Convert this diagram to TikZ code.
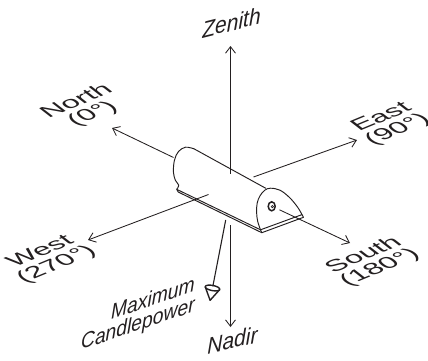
\documentclass[tikz,border=0pt]{standalone}
\usepackage{fontspec}
\setmainfont{Liberation Sans}
\usetikzlibrary{arrows.meta}
\definecolor{ink}{HTML}{231F20}
\begin{document}
\begin{tikzpicture}[x=1pt,y=-1pt,
  axis/.style={draw=ink, line width=0.85pt, -{Straight Barb[length=6.5pt,width=10pt]}},
  fx/.style={draw=ink, line width=0.95pt, line join=round, line cap=round},
  conestyle/.style={draw=ink, line width=1.4pt, line join=round},
  complab/.style={text=ink, align=center, inner sep=0pt,
    font=\fontsize{27}{26}\selectfont, cm={0.99,0.41,-0.62,0.48,(0,0)}},
  vlab/.style={text=ink, inner sep=0pt, font=\fontsize{21}{20}\selectfont\itshape}]
\useasboundingbox (0,0) rectangle (428,360);

% axis end points
\coordinate (zenS) at (230.5,173.5); \coordinate (zenE) at (230.5,46);
\coordinate (nadS) at (230.5,225);   \coordinate (nadE) at (230.5,327);
\coordinate (norS) at (173.5,157.5); \coordinate (norE) at (112,128);
\coordinate (eastS) at (253.5,177);  \coordinate (eastE) at (357,140);
\coordinate (westS) at (208.5,194.5); \coordinate (westE) at (88,240);
\coordinate (souS) at (279.5,209.8); \coordinate (souE) at (350,243);
\coordinate (cpS) at (225.7,220);    \coordinate (cpE) at (212.8,286.5);

% fixture: plate
\draw[fx] (176.7,189.3) -- (260.5,229.8) -- (302,214.6) -- (303.5,217.3) -- (261.8,232.7) -- (178.2,192) -- cycle;
\draw[fx] (260.5,229.8) -- (261.8,232.7);
% north end cap silhouette
\draw[fx] plot[smooth, tension=0.6] coordinates {(194,148.8) (185.5,147.2) (178.5,151.5) (174.5,160) (173.4,172) (175.5,180.5) (178.8,185.3) (176.7,189.3)};
% top line
\draw[fx] (194,148.8) -- (265.8,188.3);
% south end face
\draw[fx] plot[smooth, tension=0.6] coordinates {(260.5,229.8) (257.6,221) (256.6,212) (257.2,203) (260,195.8) (264.8,190.2) (270.5,188.2) (280,190.2) (289.5,197.5) (297.5,207) (302,214.6)};
% bolt
\draw[draw=ink, line width=1.5pt] (271.7,206.3) ellipse [x radius=3.5pt, y radius=4.5pt];
\draw[draw=ink, line width=0.6pt] (272.3,206.6) circle [radius=1.2pt];

% axes
\draw[axis] (zenS) -- (zenE);
\draw[axis] (nadS) -- (nadE);
\draw[axis] (norS) -- (norE);
\draw[axis] (eastS) -- (eastE);
\draw[axis] (westS) -- (westE);
\draw[axis] (souS) -- (souE);

% maximum candlepower arrow with cone
\draw[draw=ink, line width=1.1pt] (cpS) -- (cpE);
\draw[conestyle] (205.15,286.6) -- (210.1,300.3) -- (219.85,289.4);
\draw[conestyle, shift={(212.5,288)}, rotate=-11] (0,0) ellipse [x radius=7.4pt, y radius=2.6pt];

% labels
\node[vlab, cm={1,0.25,0,1.1,(0,0)}] (zenith) at (231.5,22.6) {Zenith};
\node[vlab, cm={1,0.23,0,1.1,(0,0)}] (nadir) at (232.5,340) {Nadir};
\node[vlab, font=\fontsize{19.3}{18.2}\selectfont\itshape, cm={1,0.34,0,1.1,(0,0)}, align=right, anchor=east] (maxcp) at (195,295.7) {Maximum\\Candlepower};
\node[complab] (north) at (85,108) {North\\(0°)};
\node[complab] (east) at (390,124) {East\\(90°)};
\node[complab] (west) at (49,258.5) {West\\(270°)};
\node[complab] (south) at (372,261.5) {South\\(180°)};
\end{tikzpicture}
\end{document}
